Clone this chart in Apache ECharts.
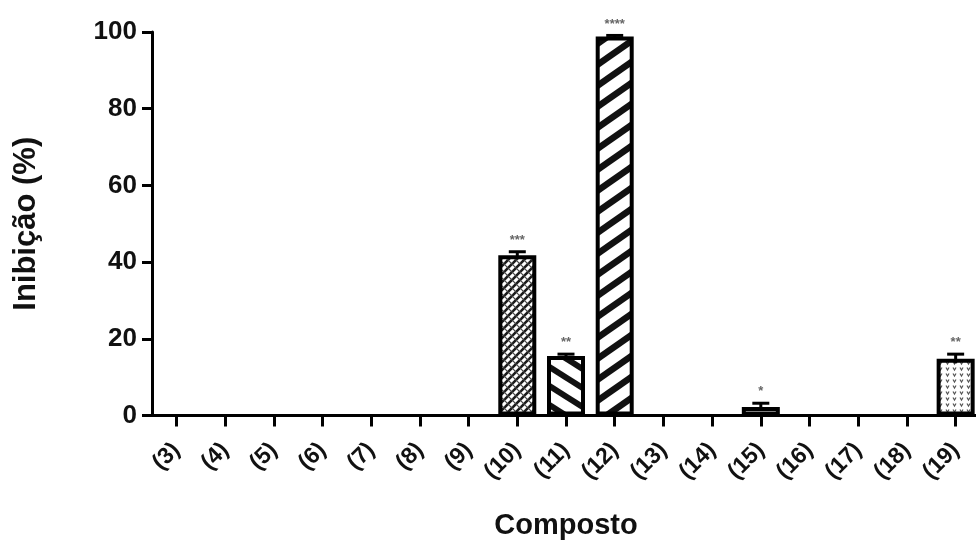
<!DOCTYPE html>
<html>
<head>
<meta charset="utf-8">
<script src="https://cdn.jsdelivr.net/npm/echarts@6/dist/echarts.min.js"></script>
<style>
  html, body { margin: 0; padding: 0; background: #fff; }
  #chart { width: 976px; height: 541px; }
</style>
</head>
<body>
<div id="chart"></div>
<script>
// Compounds tested and their mean inhibition (%) with standard error
const categories = ['(3)', '(4)', '(5)', '(6)', '(7)', '(8)', '(9)', '(10)', '(11)', '(12)', '(13)', '(14)', '(15)', '(16)', '(17)', '(18)', '(19)'];
const inhibition = [0, 0, 0, 0, 0, 0, 0, 41.8, 15.5, 98.8, 0, 0, 2.2, 0, 0, 0, 14.8];
const sem = [0, 0, 0, 0, 0, 0, 0, 0.9, 0.5, 0.3, 0, 0, 1.0, 0, 0, 0, 1.2];
const significance = ['', '', '', '', '', '', '', '***', '**', '****', '', '', '*', '', '', '', '**'];
const yTicks = [0, 20, 40, 60, 80, 100];

const FONT = '"Liberation Sans", Arial, Helvetica, sans-serif';

// Hatch tiles used as bar fills
function makeTile(w, h, draw) {
  const c = document.createElement('canvas');
  c.width = w; c.height = h;
  const g = c.getContext('2d');
  g.fillStyle = '#fff';
  g.fillRect(0, 0, w, h);
  draw(g, w, h);
  return { image: c, repeat: 'repeat' };
}
function stripes(g, w, h, lw, dir, color) {
  g.strokeStyle = color;
  g.lineWidth = lw;
  for (let k = -1; k <= 1; k++) {
    g.beginPath();
    if (dir === '/') {
      g.moveTo(-w, 2 * h + k * h);
      g.lineTo(2 * w, -h + k * h);
    } else {
      g.moveTo(-w, -h + k * h);
      g.lineTo(2 * w, 2 * h + k * h);
    }
    g.stroke();
  }
}
const fills = {
  '(10)': makeTile(8, 8, (g, w, h) => {
    stripes(g, w, h, 2.6, '/', '#1a1a1a');
    stripes(g, w, h, 1.2, '\\', '#444');
  }),
  '(11)': makeTile(30, 19, (g, w, h) => stripes(g, w, h, 6, '\\', '#111')),
  '(12)': makeTile(30, 21, (g, w, h) => stripes(g, w, h, 6.5, '/', '#111')),
  '(15)': makeTile(8, 8, () => {}),
  '(19)': makeTile(7, 6, (g) => {
    g.strokeStyle = '#555';
    g.lineWidth = 1.2;
    g.beginPath();
    g.moveTo(1, 1.5); g.lineTo(2.5, 4); g.lineTo(4, 1.5);
    g.stroke();
  })
};

const barData = categories.map((c, i) => ({
  value: inhibition[i],
  itemStyle: {
    color: fills[c] || '#fff',
    borderWidth: inhibition[i] > 0 ? 4 : 0
  }
}));
const errData = categories
  .map((c, i) => [i, inhibition[i], sem[i], significance[i]])
  .filter(d => d[1] > 0);

const chart = echarts.init(document.getElementById('chart'), null, { renderer: 'canvas' });

chart.setOption({
  backgroundColor: '#fff',
  animation: false,
  grid: {
    left: 152, right: -4, top: 32, bottom: 125.5,
    containLabel: false,
    outerBoundsMode: 'none'
  },
  xAxis: {
    type: 'category',
    data: categories,
    name: 'Composto',
    nameLocation: 'middle',
    nameGap: 96,
    nameTextStyle: { fontFamily: FONT, fontWeight: 'bold', fontSize: 29, color: '#111' },
    axisLine: { show: true, lineStyle: { color: '#000', width: 3 } },
    axisTick: { show: true, alignWithLabel: true, interval: 0, length: 11, lineStyle: { color: '#000', width: 3 } },
    axisLabel: {
      show: true, rotate: 45, margin: 31, interval: 0,
      fontFamily: FONT, fontWeight: 'bold', fontSize: 23, color: '#111'
    },
    splitLine: { show: false }
  },
  yAxis: {
    type: 'value',
    min: yTicks[0],
    max: yTicks[yTicks.length - 1],
    interval: yTicks[1] - yTicks[0],
    name: 'Inibição (%)',
    nameLocation: 'middle',
    nameGap: 110,
    nameRotate: 90,
    nameTextStyle: { fontFamily: FONT, fontWeight: 'bold', fontSize: 31, color: '#111' },
    axisLine: { show: true, lineStyle: { color: '#000', width: 3 } },
    axisTick: { show: true, length: 10, lineStyle: { color: '#000', width: 3 } },
    axisLabel: { margin: 15, fontFamily: FONT, fontWeight: 'bold', fontSize: 26, color: '#111' },
    splitLine: { show: false }
  },
  series: [
    {
      type: 'bar',
      data: barData,
      barWidth: 38,
      itemStyle: { borderColor: '#000' },
      z: 2
    },
    {
      type: 'custom',
      data: errData,
      z: 5,
      renderItem: function (params, api) {
        const i = api.value(0);
        const v = api.value(1);
        const e = api.value(2);
        const sig = errData[params.dataIndex][3];
        const top = api.coord([i, v + e]);
        const bot = api.coord([i, Math.max(0, v - e)]);
        const half = 8.5;
        const style = { stroke: '#000', lineWidth: 3 };
        return {
          type: 'group',
          children: [
            { type: 'line', shape: { x1: top[0], y1: top[1], x2: bot[0], y2: bot[1] }, style },
            { type: 'line', shape: { x1: top[0] - half, y1: top[1], x2: top[0] + half, y2: top[1] }, style },
            {
              type: 'text',
              style: {
                x: top[0], y: top[1] - 5,
                text: sig,
                fill: '#666',
                font: 'bold 13px ' + FONT,
                align: 'center',
                verticalAlign: 'bottom'
              }
            }
          ]
        };
      }
    }
  ]
});
</script>
</body>
</html>
